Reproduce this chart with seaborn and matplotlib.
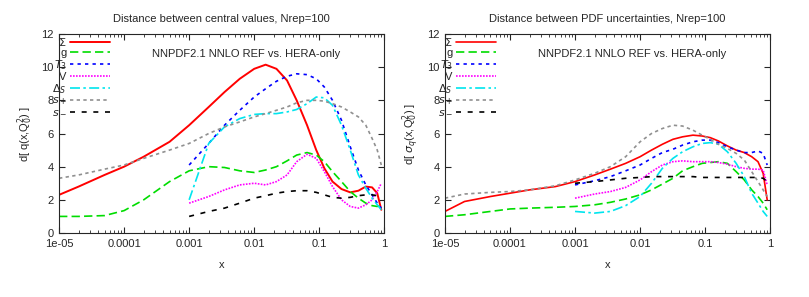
import numpy as np
import matplotlib
matplotlib.use('Agg')
import matplotlib.pyplot as plt
import seaborn as sns
from matplotlib.ticker import LogLocator, FixedLocator, FixedFormatter, NullFormatter

# x grid (values at these points)
x_all = [1e-5, 2e-5, 5e-5, 1e-4, 2e-4, 5e-4, 1e-3, 2e-3, 3.5e-3, 6e-3, 0.01, 0.015, 0.022,
         0.032, 0.045, 0.065, 0.09, 0.12, 0.16, 0.22, 0.3, 0.4, 0.52, 0.65, 0.78, 0.9]
x_hi = x_all[6:]

# left panel: distance between central values
cv_sigma = [2.3, 2.8, 3.5, 4.0, 4.6, 5.5, 6.5, 7.6, 8.5, 9.3, 9.9, 10.15, 9.9,
            9.2, 8.0, 6.5, 5.0, 3.9, 3.1, 2.65, 2.45, 2.55, 2.8, 2.75, 2.4, 1.4]
cv_g = [1.0, 1.0, 1.05, 1.35, 2.0, 3.1, 3.75, 4.0, 3.95, 3.75, 3.65, 3.8, 4.0,
        4.35, 4.7, 4.85, 4.7, 4.3, 3.7, 3.1, 2.5, 2.1, 1.8, 1.65, 1.6, 1.7]
cv_t3 = [4.1, 5.4, 6.5, 7.4, 8.2, 8.7, 9.15, 9.45, 9.6, 9.55, 9.3, 8.8, 8.0,
         6.8, 5.2, 3.8, 2.9, 2.3, 1.8, 1.5]
cv_v = [1.8, 2.2, 2.6, 2.9, 3.0, 2.9, 3.1, 3.5, 4.3, 4.75, 4.5, 3.7, 2.8,
        2.0, 1.6, 1.5, 1.7, 2.0, 2.5, 3.0]
cv_ds = [2.0, 5.4, 6.4, 6.9, 7.15, 7.2, 7.2, 7.3, 7.45, 7.8, 8.2, 8.15, 7.7,
         6.5, 5.0, 3.5, 2.7, 2.1, 1.7, 1.4]
cv_sp = [3.3, 3.5, 3.85, 4.1, 4.5, 5.0, 5.4, 6.0, 6.4, 6.7, 7.0, 7.2, 7.4,
         7.6, 7.85, 8.0, 8.0, 7.95, 7.8, 7.6, 7.3, 7.0, 6.5, 5.7, 5.0, 4.1]
cv_sm = [1.0, 1.3, 1.5, 1.8, 2.1, 2.25, 2.4, 2.5, 2.55, 2.55, 2.45, 2.3, 2.15,
         2.1, 2.15, 2.25, 2.3, 2.3, 2.25, 2.1]

# right panel: distance between PDF uncertainties
un_sigma = [1.3, 1.9, 2.2, 2.4, 2.6, 2.8, 3.1, 3.5, 3.85, 4.2, 4.6, 5.0, 5.35,
            5.65, 5.8, 5.9, 5.85, 5.75, 5.55, 5.25, 5.0, 4.85, 4.6, 4.3, 3.6, 2.0]
un_g = [1.0, 1.1, 1.3, 1.45, 1.5, 1.55, 1.6, 1.7, 1.85, 2.05, 2.3, 2.6, 2.95,
        3.3, 3.75, 4.0, 4.2, 4.25, 4.3, 4.2, 3.7, 3.2, 2.6, 2.2, 1.8, 1.4]
un_t3 = [2.9, 3.15, 3.4, 3.75, 4.1, 4.5, 4.85, 5.05, 5.3, 5.5, 5.6, 5.6, 5.45,
         5.2, 5.0, 4.85, 4.85, 4.95, 4.8, 4.1]
un_v = [2.1, 2.35, 2.5, 2.75, 3.2, 3.7, 4.1, 4.3, 4.35, 4.3, 4.3, 4.3, 4.25,
        4.15, 4.0, 3.9, 3.85, 3.85, 3.8, 2.9]
un_ds = [1.3, 1.2, 1.3, 1.65, 2.2, 3.0, 3.9, 4.5, 4.9, 5.2, 5.4, 5.45, 5.35,
         4.9, 4.2, 3.4, 2.4, 1.8, 1.3, 1.0]
un_sp = [2.1, 2.35, 2.45, 2.5, 2.6, 2.85, 3.2, 3.6, 4.0, 4.6, 5.5, 6.0, 6.3,
         6.5, 6.45, 6.2, 5.9, 5.65, 5.35, 5.1, 4.8, 4.4, 3.7, 3.1, 2.6, 2.2]
un_sm = [3.0, 3.1, 3.2, 3.3, 3.35, 3.4, 3.4, 3.4, 3.4, 3.4, 3.35, 3.35, 3.35,
         3.35, 3.35, 3.35, 3.35, 3.35, 3.3, 3.1]

labels = [r'$\Sigma$', 'g', r'$T_3$', 'V', r'$\Delta_S$', r'$s_+$', r'$s_-$']
colors = ['#ff0000', '#00dd00', '#0000ff', '#ff00ff', '#00e5ee', '#909090', '#000000']
styles = ['-', (0, (5, 2.5)), (0, (2, 2.5)), (0, (1, 0.8)), (0, (6, 2, 1.5, 2)),
          (0, (2, 2)), (0, (3, 4))]

panels = [
    ('Distance between central values, Nrep=100', r'd[ q(x,Q$_0^2$) ]',
     [(x_all, cv_sigma), (x_all, cv_g), (x_hi, cv_t3), (x_hi, cv_v),
      (x_hi, cv_ds), (x_all, cv_sp), (x_hi, cv_sm)]),
    ('Distance between PDF uncertainties, Nrep=100', r'd[ $\sigma_q$(x,Q$_0^2$) ]',
     [(x_all, un_sigma), (x_all, un_g), (x_hi, un_t3), (x_hi, un_v),
      (x_hi, un_ds), (x_all, un_sp), (x_hi, un_sm)]),
]

sns.set_style('ticks')
plt.rcParams['font.family'] = ['Liberation Sans', 'DejaVu Sans']
plt.rcParams['mathtext.fontset'] = 'dejavusans'

fig = plt.figure(figsize=(8.09, 2.97), dpi=100)
lefts = [0.073, 0.550]

for k, (title, ylab, series) in enumerate(panels):
    ax = fig.add_axes([lefts[k], 0.2155, 0.402, 0.670])
    for (xs, ys), lab, c, ls in zip(series, labels, colors, styles):
        lw = 1.4 if k == 0 and lab == r'$\Sigma$' else 1.2
        sns.lineplot(x=xs, y=ys, ax=ax, color=c, linestyle=ls, linewidth=lw, label=lab)
    ax.set_xscale('log')
    ax.set_xlim(1e-5, 1)
    ax.set_ylim(0, 12)
    ticks = [1e-5, 1e-4, 1e-3, 1e-2, 1e-1, 1]
    ax.xaxis.set_major_locator(FixedLocator(ticks))
    ax.xaxis.set_major_formatter(FixedFormatter(['1e-05', '0.0001', '0.001', '0.01', '0.1', '1']))
    ax.xaxis.set_minor_locator(LogLocator(base=10, subs=np.arange(2, 10)))
    ax.xaxis.set_minor_formatter(NullFormatter())
    ax.set_yticks(range(0, 13, 2))
    ax.tick_params(which='both', direction='in', top=True, right=True, labelsize=8, pad=4)
    ax.tick_params(which='major', length=4)
    ax.tick_params(which='minor', length=2)
    for sp in ax.spines.values():
        sp.set_linewidth(0.8)
    ax.set_title(title, fontsize=8, pad=9)
    ax.set_xlabel('x', fontsize=8, labelpad=8)
    ax.set_ylabel(ylab, fontsize=8)
    ax.text(0.575, 0.9, 'NNPDF2.1 NNLO REF vs. HERA-only', transform=ax.transAxes,
            ha='center', va='center', fontsize=8)
    ax.legend(loc='upper right', bbox_to_anchor=(0.157, 0.99), markerfirst=False,
              frameon=False, fontsize=8, handlelength=3.6, handletextpad=0.3,
              labelspacing=0.0, borderaxespad=0.0, borderpad=0.0)

fig.savefig('out.png', dpi=100)
